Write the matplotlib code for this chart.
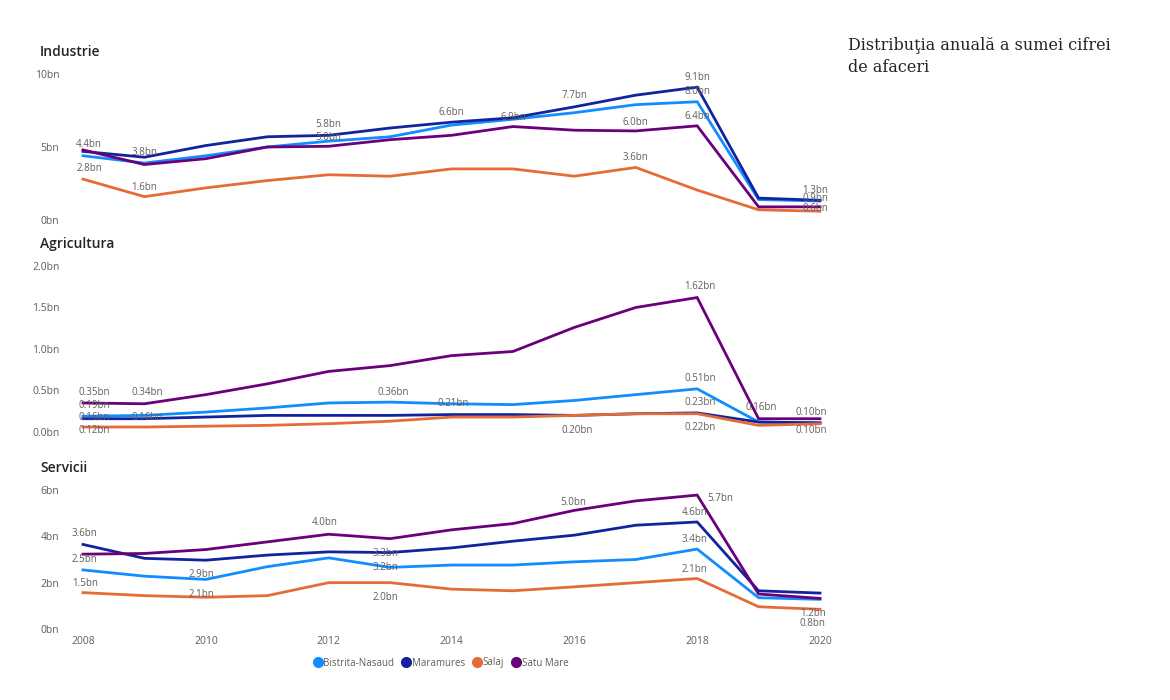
import matplotlib
matplotlib.use("Agg")
import matplotlib.pyplot as plt
from matplotlib.lines import Line2D

years = list(range(2008, 2021))
series_names = ["Bistrita-Nasaud", "Maramures", "Salaj", "Satu Mare"]
colors = ["#118DFF", "#12239E", "#E66C37", "#6B007B"]

# values in bn
industrie = {
    "Bistrita-Nasaud": [4.4, 3.9, 4.4, 5.0, 5.4, 5.7, 6.5, 6.9, 7.35, 7.9, 8.1, 1.4, 1.3],
    "Maramures":       [4.7, 4.3, 5.1, 5.7, 5.8, 6.3, 6.7, 7.0, 7.75, 8.55, 9.1, 1.5, 1.35],
    "Salaj":           [2.8, 1.6, 2.2, 2.7, 3.1, 3.0, 3.5, 3.5, 3.0, 3.6, 2.05, 0.7, 0.6],
    "Satu Mare":       [4.8, 3.8, 4.2, 5.0, 5.05, 5.5, 5.8, 6.4, 6.15, 6.1, 6.45, 0.9, 0.9],
}
agricultura = {
    "Bistrita-Nasaud": [0.19, 0.2, 0.24, 0.29, 0.35, 0.36, 0.34, 0.33, 0.38, 0.45, 0.52, 0.12, 0.11],
    "Maramures":       [0.16, 0.16, 0.18, 0.2, 0.2, 0.2, 0.21, 0.21, 0.2, 0.22, 0.23, 0.12, 0.11],
    "Salaj":           [0.06, 0.06, 0.07, 0.08, 0.1, 0.13, 0.18, 0.18, 0.2, 0.22, 0.22, 0.08, 0.1],
    "Satu Mare":       [0.35, 0.34, 0.45, 0.58, 0.73, 0.8, 0.92, 0.97, 1.26, 1.5, 1.62, 0.16, 0.16],
}
servicii = {
    "Bistrita-Nasaud": [2.55, 2.28, 2.14, 2.69, 3.07, 2.66, 2.76, 2.76, 2.9, 3.0, 3.45, 1.35, 1.28],
    "Maramures":       [3.65, 3.05, 2.97, 3.19, 3.33, 3.3, 3.5, 3.79, 4.05, 4.48, 4.62, 1.65, 1.55],
    "Salaj":           [1.57, 1.44, 1.37, 1.44, 2.0, 2.0, 1.72, 1.65, 1.82, 2.0, 2.18, 0.96, 0.85],
    "Satu Mare":       [3.23, 3.26, 3.43, 3.76, 4.09, 3.9, 4.28, 4.55, 5.12, 5.53, 5.78, 1.51, 1.32],
}

# data labels: (year position, label height in bn, text)
industrie_labels = [
    (2008.1, 5.14, "4.4bn"), (2009, 4.59, "3.8bn"), (2008.1, 3.56, "2.8bn"),
    (2009, 2.26, "1.6bn"), (2012, 6.51, "5.8bn"), (2012, 5.68, "5.0bn"),
    (2014, 7.33, "6.6bn"), (2015, 7.05, "6.9bn"), (2016, 8.56, "7.7bn"),
    (2017, 6.71, "6.0bn"), (2017, 4.3, "3.6bn"), (2018, 9.73, "9.1bn"),
    (2018, 8.77, "8.0bn"), (2018, 7.12, "6.4bn"), (2019.92, 2.05, "1.3bn"),
    (2019.92, 1.45, "0.9bn"), (2019.92, 0.78, "0.6bn"),
]
agricultura_labels = [
    (2008.18, 0.47, "0.35bn"), (2009.05, 0.47, "0.34bn"), (2008.18, 0.325, "0.19bn"),
    (2008.18, 0.17, "0.16bn"), (2009.05, 0.17, "0.16bn"), (2008.18, 0.024, "0.12bn"),
    (2013.05, 0.48, "0.36bn"), (2014.03, 0.34, "0.21bn"), (2016.05, 0.024, "0.20bn"),
    (2018.05, 1.75, "1.62bn"), (2018.05, 0.65, "0.51bn"), (2018.05, 0.36, "0.23bn"),
    (2018.05, 0.06, "0.22bn"), (2019.05, 0.29, "0.16bn"), (2019.85, 0.23, "0.10bn"),
    (2019.85, 0.024, "0.10bn"),
]
servicii_labels = [
    (2008.03, 4.14, "3.6bn"), (2008.03, 3.02, "2.5bn"), (2008.03, 1.98, "1.5bn"),
    (2009.93, 2.37, "2.9bn"), (2009.93, 1.51, "2.1bn"), (2011.93, 4.58, "4.0bn"),
    (2012.93, 3.28, "3.3bn"), (2012.93, 2.67, "3.2bn"), (2012.93, 1.38, "2.0bn"),
    (2015.98, 5.44, "5.0bn"), (2018.37, 5.65, "5.7bn"), (2017.96, 5.01, "4.6bn"),
    (2017.96, 3.88, "3.4bn"), (2017.96, 2.55, "2.1bn"), (2019.88, 0.65, "1.2bn"),
    (2019.88, 0.22, "0.8bn"),
]

panels = [
    ("Industrie", industrie, industrie_labels, [0, 5, 10], ["0bn", "5bn", "10bn"], 220, 74),
    ("Agricultura", agricultura, agricultura_labels, [0, 0.5, 1.0, 1.5, 2.0],
     ["0.0bn", "0.5bn", "1.0bn", "1.5bn", "2.0bn"], 432, 266),
    ("Servicii", servicii, servicii_labels, [0, 2, 4, 6], ["0bn", "2bn", "4bn", "6bn"], 629, 490),
]

plt.rcParams['font.family'] = ['Open Sans', 'DejaVu Sans']
W, H = 1170, 700
fig = plt.figure(figsize=(W / 100, H / 100), dpi=100)
fig.patch.set_facecolor("white")

gray = "#605E5C"
x0, x1 = 83, 820

for i, (name, data, labels, ticks, ticklabels, ybot, ytop) in enumerate(panels):
    ax = fig.add_axes([x0 / W, 1 - ybot / H, (x1 - x0) / W, (ybot - ytop) / H])
    for s, c in zip(series_names, colors):
        ax.plot(years, data[s], color=c, lw=2.0, clip_on=False, solid_joinstyle="miter")
    for xv, yv, t in labels:
        ax.text(xv, yv, t, fontsize=7, color=gray, ha="center", va="center")
    ax.set_xlim(2008, 2020)
    ax.set_ylim(ticks[0], ticks[-1])
    ax.set_yticks(ticks)
    ax.set_yticklabels(ticklabels)
    ax.tick_params(axis="y", length=0, pad=17, labelsize=7.5, labelcolor=gray)
    if i == 2:
        ax.set_xticks(range(2008, 2021, 2))
        ax.tick_params(axis="x", length=0, pad=5, labelsize=7.5, labelcolor=gray)
    else:
        ax.set_xticks([])
    for sp in ax.spines.values():
        sp.set_visible(False)
    ax.patch.set_alpha(0)
    fig.text(40 / W, 1 - (ytop - 22) / H, name, fontsize=10, color="#252423",
             weight="semibold", va="center", ha="left")

handles = [Line2D([], [], marker="o", ls="", color=c, markersize=7) for c in colors]
fig.legend(handles, series_names, loc="center", bbox_to_anchor=(440 / W, 1 - 663 / H),
           ncol=4, frameon=False, fontsize=7, handletextpad=0.0, columnspacing=0.6,
           labelcolor=gray, handlelength=1.2)

fig.text(848 / W, 1 - 37 / H, "Distribuţia anuală a sumei cifrei\nde afaceri",
         family="DejaVu Serif", fontsize=11.5, color="#252423", va="top", ha="left",
         linespacing=1.35)

fig.savefig("out.png", dpi=100, facecolor="white")
